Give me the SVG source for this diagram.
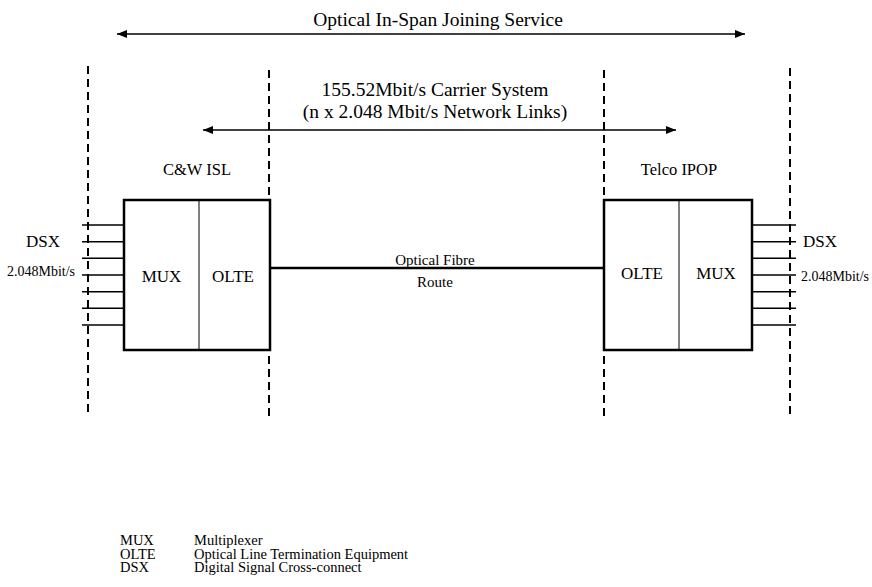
<svg xmlns="http://www.w3.org/2000/svg" width="872" height="587" viewBox="0 0 872 587">
<defs>
<marker id="ah" viewBox="0 0 10 10" refX="10" refY="5" markerWidth="10" markerHeight="10" markerUnits="userSpaceOnUse" orient="auto-start-reverse">
<path d="M0,1 L10,5 L0,9 z" fill="#000"/>
</marker>
<style>
text{font-family:"Liberation Serif","Times New Roman",serif;fill:#000}
.t20{font-size:19.5px}
.t17{font-size:17px}
.t16{font-size:16.5px}
.t15{font-size:15px}
.t14{font-size:14px}
.lg{font-size:14.5px}
.dash{stroke:#000;stroke-width:2;stroke-dasharray:8,5;fill:none}
.box{fill:#fff;stroke:#000;stroke-width:2.5}
.div{stroke:#000;stroke-width:1}
.tick{stroke:#000;stroke-width:1.5}
.arr{stroke:#000;stroke-width:1.5;marker-start:url(#ah);marker-end:url(#ah)}
</style>
</defs>
<rect width="872" height="587" fill="#fff"/>
<g id="boundaries">
<line class="dash" x1="88" y1="66" x2="88" y2="416"/>
<line class="dash" x1="269" y1="70" x2="269" y2="416"/>
<line class="dash" x1="604" y1="70" x2="604" y2="416"/>
<line class="dash" x1="790" y1="68" x2="790" y2="416"/>
</g>
<g id="connectors">
<line class="arr" x1="117" y1="34" x2="745" y2="34"/>
<line class="arr" x1="203" y1="130" x2="676" y2="130"/>
<line x1="270" y1="268" x2="604" y2="268" stroke="#000" stroke-width="2.5"/>
<g class="tick">
<line x1="82" y1="225" x2="124" y2="225"/>
<line x1="82" y1="241.7" x2="124" y2="241.7"/>
<line x1="82" y1="258.3" x2="124" y2="258.3"/>
<line x1="82" y1="275" x2="124" y2="275"/>
<line x1="82" y1="291.7" x2="124" y2="291.7"/>
<line x1="82" y1="308.3" x2="124" y2="308.3"/>
<line x1="82" y1="325" x2="124" y2="325"/>
<line x1="752" y1="225" x2="796" y2="225"/>
<line x1="752" y1="241.7" x2="796" y2="241.7"/>
<line x1="752" y1="258.3" x2="796" y2="258.3"/>
<line x1="752" y1="275" x2="796" y2="275"/>
<line x1="752" y1="291.7" x2="796" y2="291.7"/>
<line x1="752" y1="308.3" x2="796" y2="308.3"/>
<line x1="752" y1="325" x2="796" y2="325"/>
</g>
</g>
<g id="labels-top">
<text class="t20" x="438" y="26" text-anchor="middle">Optical In-Span Joining Service</text>
<text class="t20" x="435" y="96" text-anchor="middle">155.52Mbit/s Carrier System</text>
<text class="t20" x="435" y="118" text-anchor="middle">(n x 2.048 Mbit/s Network Links)</text>
<text class="t15" x="435" y="265" text-anchor="middle">Optical Fibre</text>
<text class="t15" x="435" y="287" text-anchor="middle">Route</text>
</g>
<g id="node-cw">
<text class="t16" x="197" y="175" text-anchor="middle">C&amp;W ISL</text>
<rect class="box" x="124" y="200" width="146" height="150"/>
<line class="div" x1="199" y1="200" x2="199" y2="350"/>
<text class="t17" x="161.5" y="282" text-anchor="middle">MUX</text>
<text class="t17" x="233" y="282" text-anchor="middle">OLTE</text>
<text class="t17" x="43" y="247" text-anchor="middle">DSX</text>
<text class="t14" x="41" y="276" text-anchor="middle">2.048Mbit/s</text>
</g>
<g id="node-telco">
<text class="t16" x="679" y="175" text-anchor="middle">Telco IPOP</text>
<rect class="box" x="604" y="200" width="148" height="150"/>
<line class="div" x1="679" y1="200" x2="679" y2="350"/>
<text class="t17" x="642" y="279" text-anchor="middle">OLTE</text>
<text class="t17" x="716" y="279" text-anchor="middle">MUX</text>
<text class="t17" x="820" y="247" text-anchor="middle">DSX</text>
<text class="t14" x="801" y="281">2.048Mbit/s</text>
</g>
<g id="legend">
<text class="lg" x="120" y="545">MUX</text>
<text class="lg" x="194" y="545">Multiplexer</text>
<text class="lg" x="120" y="558.5">OLTE</text>
<text class="lg" x="194" y="558.5">Optical  Line Termination Equipment</text>
<text class="lg" x="120" y="572">DSX</text>
<text class="lg" x="194" y="572">Digital Signal Cross-connect</text>
</g>
</svg>
